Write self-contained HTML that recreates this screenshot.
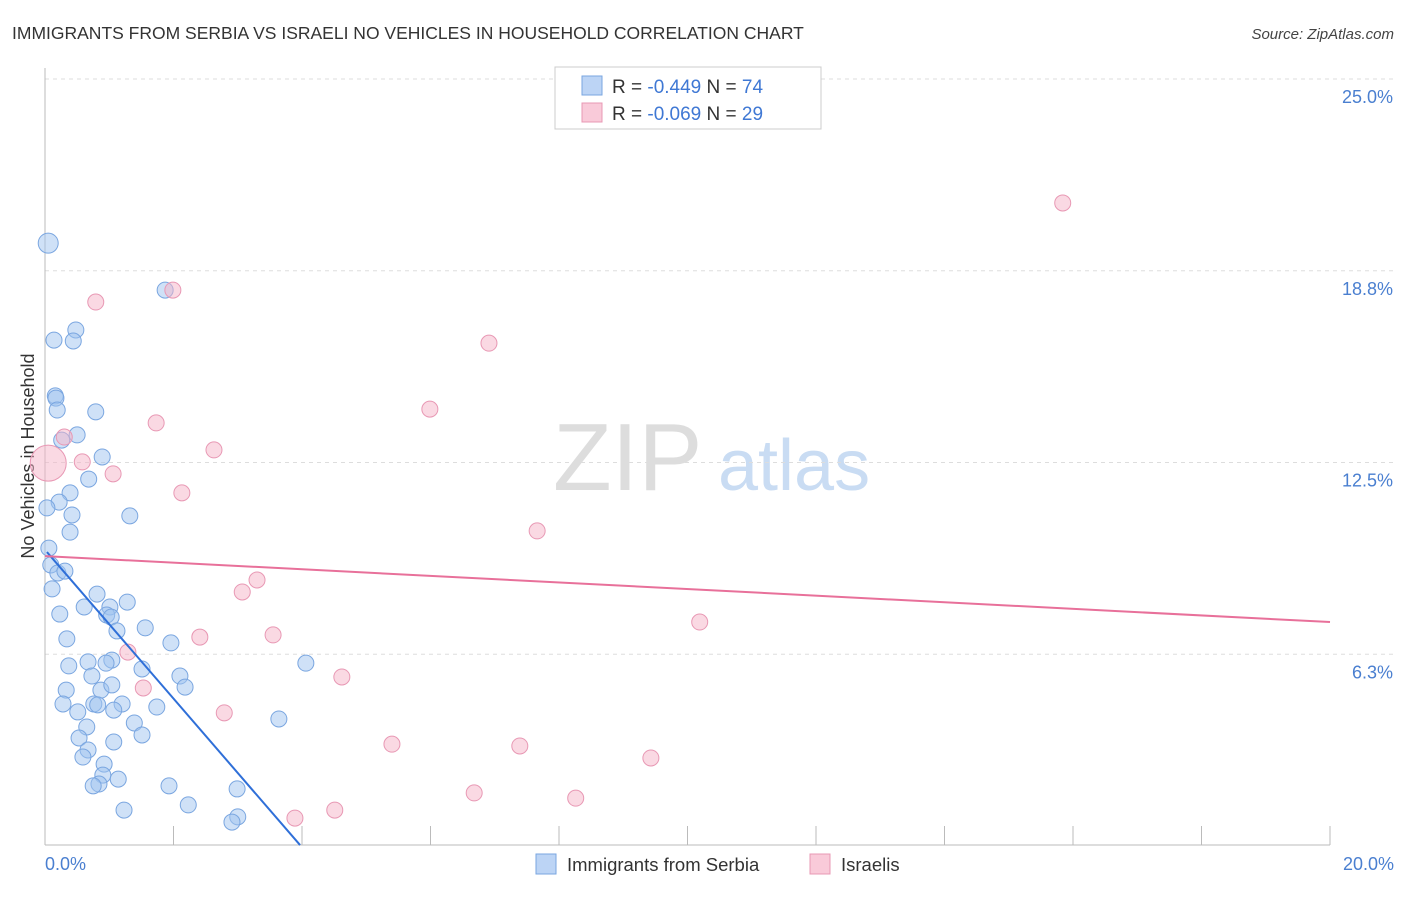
<!DOCTYPE html>
<html><head><meta charset="utf-8"><style>
body{margin:0;background:#fff;font-family:"Liberation Sans",sans-serif;}
svg text{font-family:"Liberation Sans",sans-serif;}
</style></head><body>
<svg id="chart" width="1406" height="892" xmlns="http://www.w3.org/2000/svg">
<text x="12" y="39" font-size="17.5" fill="#333">IMMIGRANTS FROM SERBIA VS ISRAELI NO VEHICLES IN HOUSEHOLD CORRELATION CHART</text>
<text x="1394" y="39" font-size="15" fill="#444" text-anchor="end" font-style="italic">Source: ZipAtlas.com</text>
<g>
<text x="553" y="490" font-size="96" fill="#ddd" font-family="Liberation Serif">ZIP</text>
<text x="718" y="490" font-size="72" fill="#c9dcf3">atlas</text>
</g>
<g id="grid"></g>
<g id="yticks"></g>
<g id="xticks"></g>
<line x1="45" y1="68" x2="45" y2="845" stroke="#bbb"/>
<line x1="45" y1="845" x2="1330" y2="845" stroke="#bbb"/>
<text transform="translate(34,456) rotate(-90)" font-size="18" fill="#333" text-anchor="middle">No Vehicles in Household</text>
<text x="45" y="870" font-size="18" fill="#4a7fd0">0.0%</text>
<text x="1394" y="870" font-size="18" fill="#4a7fd0" text-anchor="end">20.0%</text>
<g id="pts"></g>
<g id="lines"></g>
<g>
<rect x="555" y="67" width="266" height="62" fill="#fff" stroke="#ccc"/>
<rect x="582" y="76" width="20" height="19" fill="#bcd4f5" stroke="#7aa6e0"/>
<rect x="582" y="103" width="20" height="19" fill="#f9cad9" stroke="#e898b4"/>
<text x="612" y="93" font-size="19" fill="#333">R = <tspan fill="#3f78d4">-0.449</tspan>   N = <tspan fill="#3f78d4">74</tspan></text>
<text x="612" y="120" font-size="19" fill="#333">R = <tspan fill="#3f78d4">-0.069</tspan>   N = <tspan fill="#3f78d4">29</tspan></text>
</g>
<g>
<rect x="536" y="854" width="20" height="20" fill="#bcd4f5" stroke="#7aa6e0"/>
<text x="567" y="871" font-size="18.5" fill="#333">Immigrants from Serbia</text>
<rect x="810" y="854" width="20" height="20" fill="#f9cad9" stroke="#e898b4"/>
<text x="841" y="871" font-size="18.5" fill="#333">Israelis</text>
</g>
</svg>
<script>
const yTicks=[6.25,12.5,18.75,25];
const yTickLabels=["6.3%","12.5%","18.8%","25.0%"];
const xTicks=[2,4,6,8,10,12,14,16,18,20];
const blueX=[.05,1.87,.14,.48,.44,.16,.17,.19,.79,.50,.26,.89,.68,.39,.22,.03,.42,1.32,.39,.06,.09,.20,.31,.11,.81,1.28,.61,1.01,.23,.96,1.03,1.12,1.56,.34,1.96,.67,1.04,.95,.37,1.51,4.06,.73,2.10,.33,.87,2.18,1.04,.28,.76,.82,1.20,1.07,1.74,.51,3.64,1.39,.65,.53,1.51,1.07,.67,.59,.92,.90,1.14,.84,1.93,.75,2.99,2.23,1.23,3.00,2.91];
const blueY=[19.65,18.12,16.49,16.82,16.46,14.67,14.60,14.21,14.15,13.40,13.23,12.68,11.96,11.51,11.21,11.02,10.79,10.76,10.23,9.71,9.16,8.90,8.96,8.38,8.21,7.95,7.79,7.79,7.56,7.53,7.46,7.01,7.11,6.75,6.62,6.00,6.06,5.96,5.87,5.77,5.96,5.54,5.54,5.08,5.08,5.18,5.25,4.63,4.63,4.60,4.63,4.43,4.53,4.37,4.14,4.01,3.88,3.52,3.62,3.39,3.13,2.90,2.67,2.31,2.18,2.02,1.96,1.96,1.86,1.34,1.17,.95,.78];
const pinkX=[15.84,1.99,.79,6.91,5.99,1.73,.30,2.63,.58,.05,1.06,2.13,7.66,3.30,3.07,10.19,2.41,3.55,1.29,4.62,1.53,2.79,5.40,7.39,9.43,6.68,8.26,4.51,3.89];
const pinkY=[20.96,18.12,17.73,16.39,14.24,13.79,13.33,12.91,12.52,12.48,12.13,11.51,10.27,8.67,8.28,7.30,6.81,6.88,6.32,5.51,5.15,4.34,3.32,3.26,2.87,1.73,1.56,1.17,.91];
const blueTrend=[[0.03,9.58],[3.97,0.03]];
const pinkTrend=[[0,9.45],[20,7.30]];
const NS="http://www.w3.org/2000/svg";
const sx=v=>45+v/20*1285;
const sy=v=>846-v/25*767;
function mk(tag,attrs,parent){const e=document.createElementNS(NS,tag);for(const k in attrs)e.setAttribute(k,attrs[k]);parent.appendChild(e);return e;}
const grid=document.getElementById('grid'),yt=document.getElementById('yticks'),xt=document.getElementById('xticks');
yTicks.forEach((t,i)=>{
 const l=mk('line',{x1:45,x2:1394,y1:sy(t),y2:sy(t),stroke:'#ddd','stroke-dasharray':'4,4'},grid);
 
 
 const tx=mk('text',{x:1393,y:sy(t)+24,'font-size':18,fill:'#4a7fd0','text-anchor':'end'},yt);
 tx.textContent=yTickLabels[i];
 
 
});
xTicks.forEach(t=>{
 const l=mk('line',{x1:sx(t),x2:sx(t),y1:826,y2:845,stroke:'#bbb'},xt);
 
 
});
const pts=document.getElementById('pts');
blueX.forEach((x,i)=>{
 const c=mk('circle',{cx:sx(x),cy:sy(blueY[i]),r:i===0?10:8,fill:'rgba(160,196,240,0.5)',stroke:'#7aa6e0','stroke-width':1},pts);
 
 
});
pinkX.forEach((x,i)=>{
 const c=mk('circle',{cx:sx(x),cy:sy(pinkY[i]),r:i===9?18:8,fill:'rgba(245,180,200,0.5)',stroke:'#e898b4','stroke-width':1},pts);
 
 
});
const lines=document.getElementById('lines');
const bl=mk('line',{x1:sx(blueTrend[0][0]),y1:sy(blueTrend[0][1]),x2:sx(blueTrend[1][0]),y2:sy(blueTrend[1][1]),stroke:'#2f6fd8','stroke-width':2},lines);


const pl=mk('line',{x1:sx(pinkTrend[0][0]),y1:sy(pinkTrend[0][1]),x2:sx(pinkTrend[1][0]),y2:sy(pinkTrend[1][1]),stroke:'#e8709a','stroke-width':2},lines);


</script>
</body></html>
